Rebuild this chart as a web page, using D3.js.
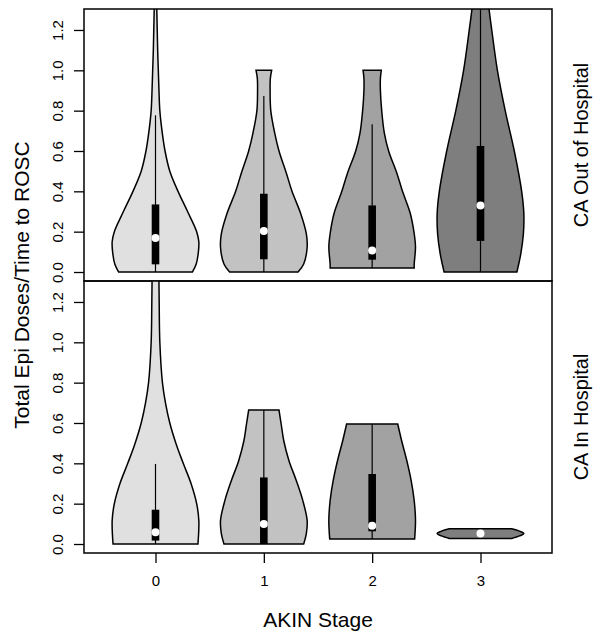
<!DOCTYPE html>
<html>
<head>
<meta charset="utf-8">
<script src="https://cdn.jsdelivr.net/npm/d3@7"></script>
<style>
  html, body { margin: 0; padding: 0; background: #fff; }
  svg { display: block; }
  text { font-family: "Liberation Sans", Arial, Helvetica, sans-serif; fill: #000; }
</style>
</head>
<body>
<svg id="chart" width="601" height="639"></svg>
<script>
// ---------- data ----------
const stages = [0, 1, 2, 3];
const stageLabels = ["0", "1", "2", "3"];
const panelLabels = ["CA Out of Hospital", "CA In Hospital"];
const yTicks = [0, 0.2, 0.4, 0.6, 0.8, 1.0, 1.2];
const yTickLabels = ["0.0", "0.2", "0.4", "0.6", "0.8", "1.0", "1.2"];
const xTitle = "AKIN Stage";
const yTitle = "Total Epi Doses/Time to ROSC";

// violin outlines: [value, relative half-width]
const outShape0 = [[0,0.85],[0.04,0.94],[0.1,0.99],[0.15,1.0],[0.2,0.95],[0.3,0.74],[0.4,0.52],[0.5,0.33],[0.6,0.22],[0.7,0.15],[0.8,0.1],[0.9,0.08],[1.0,0.065],[1.1,0.05],[1.2,0.04],[1.3,0.03],[1.4,0.025]];
const outShape1 = [[0,0.79],[0.04,0.92],[0.124,1.0],[0.19,0.98],[0.29,0.85],[0.4,0.65],[0.49,0.52],[0.6,0.35],[0.69,0.25],[0.8,0.16],[0.9,0.145],[0.96,0.15],[1.0,0.18]];
const outShape2 = [[0.02,0.97],[0.04,0.97],[0.124,1.0],[0.19,0.97],[0.29,0.88],[0.4,0.7],[0.49,0.57],[0.6,0.38],[0.69,0.28],[0.8,0.22],[0.9,0.19],[0.96,0.19],[1.0,0.21]];
const outShape3 = [[0,0.84],[0.09,0.93],[0.19,0.99],[0.29,1.0],[0.4,0.95],[0.6,0.78],[0.8,0.57],[1.0,0.39],[1.2,0.26],[1.3,0.2],[1.4,0.16]];
const inShape0 = [[0,0.98],[0.116,1.0],[0.2,0.95],[0.3,0.82],[0.4,0.64],[0.5,0.47],[0.6,0.33],[0.7,0.23],[0.8,0.16],[1.0,0.1],[1.2,0.085],[1.4,0.075]];
const inShape1 = [[0,0.92],[0.05,0.98],[0.116,1.0],[0.215,0.9],[0.314,0.75],[0.413,0.58],[0.512,0.46],[0.595,0.4],[0.664,0.35]];
const inShape2 = [[0.025,0.98],[0.116,1.0],[0.215,0.97],[0.314,0.9],[0.413,0.8],[0.512,0.68],[0.595,0.59]];
const inShape3 = [[0.027,0.72],[0.04,0.9],[0.052,1.0],[0.064,0.9],[0.076,0.72]];

// box statistics per stage
const outQ1 = [0.038, 0.063, 0.061, 0.154];
const outMedian = [0.169, 0.203, 0.107, 0.33];
const outQ3 = [0.335, 0.388, 0.33, 0.625];
const outWhiskLo = [0, 0, 0.02, 0];
const outWhiskHi = [0.777, 0.873, 0.732, 1.4];
const inQ1 = [0.017, 0, 0.063, 0.052];
const inMedian = [0.058, 0.099, 0.091, 0.052];
const inQ3 = [0.17, 0.33, 0.347, 0.052];
const inWhiskLo = [0, 0, 0.025, 0.052];
const inWhiskHi = [0.397, 0.664, 0.595, 0.052];

const fills = ["#e0e0e0", "#c2c2c2", "#a2a2a2", "#7e7e7e"];

// ---------- layout ----------
const svg = d3.select("#chart");
const left = 84, right = 552, panelH = 272;
const panelTops = [9, 281];

const x = d3.scaleLinear().domain([-0.66, 3.66]).range([left, right]);
const halfW = x(0.4) - x(0);
const boxHalf = 3.8;

const panels = [
  { shapes: [outShape0, outShape1, outShape2, outShape3], q1: outQ1, med: outMedian, q3: outQ3, lo: outWhiskLo, hi: outWhiskHi },
  { shapes: [inShape0, inShape1, inShape2, inShape3], q1: inQ1, med: inMedian, q3: inQ3, lo: inWhiskLo, hi: inWhiskHi }
];

panels.forEach((p, pi) => {
  const top = panelTops[pi];
  const y = d3.scaleLinear().domain([-0.0446, 1.304]).range([top + panelH, top]);
  const clipId = "clip" + pi;
  svg.append("clipPath").attr("id", clipId)
    .append("rect").attr("x", left).attr("y", top).attr("width", right - left).attr("height", panelH);
  const g = svg.append("g").attr("clip-path", `url(#${clipId})`);

  stages.forEach((s, i) => {
    const cx = x(s);
    const area = d3.area()
      .y(d => y(d[0]))
      .x0(d => cx - halfW * d[1])
      .x1(d => cx + halfW * d[1])
      .curve(d3.curveCatmullRom);
    g.append("path").attr("d", area(p.shapes[i]))
      .attr("fill", fills[i]).attr("stroke", "#000").attr("stroke-width", 1.5);
    g.append("line").attr("x1", cx).attr("x2", cx)
      .attr("y1", y(p.lo[i])).attr("y2", y(p.hi[i]))
      .attr("stroke", "#000").attr("stroke-width", 1.2);
    g.append("rect").attr("x", cx - boxHalf).attr("width", boxHalf * 2)
      .attr("y", y(p.q3[i])).attr("height", Math.max(0, y(p.q1[i]) - y(p.q3[i])))
      .attr("fill", "#000");
    g.append("circle").attr("cx", cx).attr("cy", y(p.med[i])).attr("r", 4).attr("fill", "#fff");
  });

  // frame
  svg.append("rect").attr("x", left).attr("y", top).attr("width", right - left).attr("height", panelH)
    .attr("fill", "none").attr("stroke", "#000").attr("stroke-width", 1.5);

  // y axis
  const ax = svg.append("g").attr("transform", `translate(${left},0)`)
    .call(d3.axisLeft(y).tickValues(yTicks).tickSize(10).tickFormat((d, k) => yTickLabels[k]));
  ax.select(".domain").remove();
  ax.selectAll(".tick line").attr("stroke", "#000").attr("stroke-width", 1.3);
  ax.selectAll(".tick text")
    .attr("x", 0).attr("y", 0).attr("dy", null)
    .attr("transform", "translate(-21,0) rotate(-90)")
    .attr("text-anchor", "middle")
    .style("font-size", "15px")
    .style("font-family", "'Liberation Sans', Arial, sans-serif");

  // strip label
  svg.append("text")
    .attr("transform", `translate(588,${top + panelH / 2}) rotate(-90)`)
    .attr("text-anchor", "middle")
    .style("font-size", "20px")
    .text(panelLabels[pi]);
});

// x axis
const bottom = panelTops[1] + panelH;
const xa = svg.append("g").attr("transform", `translate(0,${bottom})`)
  .call(d3.axisBottom(x).tickValues(stages).tickSize(10).tickFormat((d, k) => stageLabels[k]));
xa.select(".domain").remove();
xa.selectAll(".tick line").attr("stroke", "#000").attr("stroke-width", 1.3);
xa.selectAll(".tick text").attr("y", 22).attr("dy", "0.71em")
  .style("font-size", "15px")
  .style("font-family", "'Liberation Sans', Arial, sans-serif");

svg.append("text").attr("x", (left + right) / 2).attr("y", 627)
  .attr("text-anchor", "middle").style("font-size", "21px").text(xTitle);

svg.append("text")
  .attr("transform", `translate(29,${(panelTops[0] + bottom) / 2 + 4}) rotate(-90)`)
  .attr("text-anchor", "middle").style("font-size", "21px").text(yTitle);
</script>
</body>
</html>
